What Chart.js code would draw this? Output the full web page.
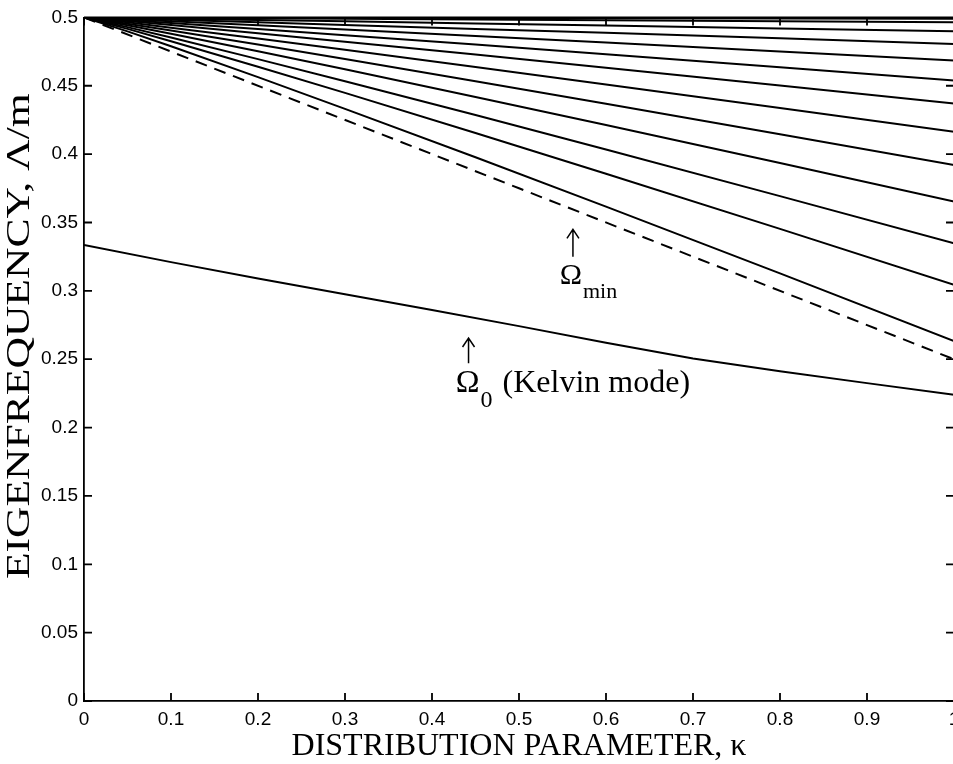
<!DOCTYPE html>
<html>
<head>
<meta charset="utf-8">
<title>Eigenfrequency vs distribution parameter</title>
<script src="https://cdn.jsdelivr.net/npm/chart.js@4/dist/chart.umd.min.js"></script>
<style>
  html, body { margin: 0; padding: 0; background: #fff; overflow: hidden; }
  #wrap { width: 968px; height: 764px; }
</style>
</head>
<body>
<div id="wrap"><canvas id="eigenChart"></canvas></div>
<script>
// kappa samples for the mode curves
const kappa = [0, 0.05, 0.1, 0.2, 0.3, 0.45, 0.6, 0.8, 1.0];

// higher modes, eigenfrequency Lambda/m (top to bottom)
const mode1  = [0.5, 0.5,    0.4999, 0.4998, 0.4997, 0.4996, 0.4994, 0.4992, 0.4990];
const mode2  = [0.5, 0.4998, 0.4997, 0.4993, 0.4990, 0.4984, 0.4979, 0.4972, 0.4964];
const mode3  = [0.5, 0.4996, 0.4991, 0.4981, 0.4971, 0.4956, 0.4940, 0.4919, 0.4898];
const mode4  = [0.5, 0.4992, 0.4983, 0.4964, 0.4945, 0.4916, 0.4887, 0.4847, 0.4806];
const mode5  = [0.5, 0.4986, 0.4972, 0.4942, 0.4911, 0.4864, 0.4816, 0.4751, 0.4685];
const mode6  = [0.5, 0.4980, 0.4959, 0.4915, 0.4870, 0.4801, 0.4730, 0.4635, 0.4539];
const mode7  = [0.5, 0.4973, 0.4944, 0.4884, 0.4822, 0.4728, 0.4632, 0.4502, 0.4370];
const mode8  = [0.5, 0.4964, 0.4925, 0.4846, 0.4764, 0.4638, 0.4510, 0.4338, 0.4163];
const mode9  = [0.5, 0.4954, 0.4904, 0.4801, 0.4695, 0.4533, 0.4369, 0.4146, 0.3921];
const mode10 = [0.5, 0.4942, 0.4880, 0.4752, 0.4620, 0.4418, 0.4213, 0.3935, 0.3654];
const mode11 = [0.5, 0.4929, 0.4853, 0.4695, 0.4533, 0.4286, 0.4034, 0.3693, 0.3348];
const mode12 = [0.5, 0.4916, 0.4826, 0.4639, 0.4448, 0.4155, 0.3857, 0.3453, 0.3045];
const mode13 = [0.5, 0.4898, 0.4789, 0.4563, 0.4331, 0.3977, 0.3616, 0.3128, 0.2633];
const modes = [mode1, mode2, mode3, mode4, mode5, mode6, mode7, mode8, mode9,
               mode10, mode11, mode12, mode13];

// lower edge of the continuum, Omega_min
const kappaMin = [0, 0.5, 1.0];
const omegaMin = [0.5, 0.375, 0.25];

// Kelvin mode, Omega_0
const kappaKelvin = [0, 0.1, 0.2, 0.3, 0.4, 0.5, 0.6, 0.7, 0.8, 0.9, 1.0];
const omegaKelvin = [0.3335, 0.3210, 0.3090, 0.2975, 0.2860, 0.2742, 0.2620, 0.2505, 0.2412, 0.2325, 0.2240];

const xTickLabels = ['0', '0.1', '0.2', '0.3', '0.4', '0.5', '0.6', '0.7', '0.8', '0.9', '1'];
const yTickLabels = ['0', '0.05', '0.1', '0.15', '0.2', '0.25', '0.3', '0.35', '0.4', '0.45', '0.5'];

const toPoints = (xs, ys) => xs.map((k, i) => ({ x: k, y: ys[i] }));

const lineStyle = {
    borderColor: '#000',
    borderWidth: 2,
    pointRadius: 0,
    fill: false,
    tension: 0,
};

const datasets = modes.map(m => ({ ...lineStyle, data: toPoints(kappa, m) }));
datasets.push({ ...lineStyle, data: toPoints(kappaMin, omegaMin), borderDash: [12, 8] });
datasets.push({ ...lineStyle, data: toPoints(kappaKelvin, omegaKelvin) });

const serif = '"Liberation Serif", "Times New Roman", serif';

// box around the plot with inward ticks, the y title and the arrow labels
const frame = {
    id: 'frame',
    afterDatasetsDraw(chart) {
        const { ctx, chartArea: a, scales: { x, y } } = chart;
        ctx.save();
        ctx.strokeStyle = '#000';
        ctx.lineWidth = 1.8;
        ctx.beginPath();
        ctx.moveTo(a.left, a.top);
        ctx.lineTo(a.right, a.top);
        ctx.lineTo(a.right, a.bottom);
        x.ticks.forEach(t => {
            const px = x.getPixelForValue(t.value);
            ctx.moveTo(px, a.bottom);
            ctx.lineTo(px, a.bottom - 8);
            ctx.moveTo(px, a.top);
            ctx.lineTo(px, a.top + 8);
        });
        y.ticks.forEach(t => {
            const py = y.getPixelForValue(t.value);
            ctx.moveTo(a.left, py);
            ctx.lineTo(a.left + 8, py);
            ctx.moveTo(a.right, py);
            ctx.lineTo(a.right - 8, py);
        });
        ctx.stroke();
        ctx.restore();
    },
    afterDraw(chart) {
        const { ctx, scales: { x, y } } = chart;
        const arrow = (px, top, bottom) => {
            ctx.beginPath();
            ctx.moveTo(px, bottom);
            ctx.lineTo(px, top);
            ctx.moveTo(px - 6, top + 9);
            ctx.lineTo(px, top);
            ctx.lineTo(px + 6, top + 9);
            ctx.stroke();
        };
        ctx.save();
        ctx.strokeStyle = '#000';
        ctx.fillStyle = '#000';
        ctx.lineWidth = 1.5;
        ctx.textBaseline = 'alphabetic';

        // y axis title, drawn tall and narrow
        ctx.save();
        ctx.translate(29, (chart.chartArea.top + chart.chartArea.bottom) / 2 - 23);
        ctx.rotate(-Math.PI / 2);
        ctx.scale(1.32, 1);
        ctx.font = '33px ' + serif;
        ctx.textAlign = 'center';
        ctx.fillText('EIGENFREQUENCY, Λ/m', 0, 0);
        ctx.restore();

        // Omega_min
        let px = x.getPixelForValue(0.562);
        arrow(px, y.getPixelForValue(0.3450), y.getPixelForValue(0.325));
        ctx.font = '30px ' + serif;
        ctx.textAlign = 'center';
        ctx.fillText('Ω', px - 2, y.getPixelForValue(0.3050));
        ctx.font = '22px ' + serif;
        ctx.textAlign = 'left';
        ctx.fillText('min', px + 10, y.getPixelForValue(0.2945));

        // Omega_0, Kelvin mode
        px = x.getPixelForValue(0.442);
        arrow(px, y.getPixelForValue(0.2655), y.getPixelForValue(0.2470));
        ctx.font = '32px ' + serif;
        ctx.textAlign = 'center';
        ctx.fillText('Ω', px - 1, y.getPixelForValue(0.2260));
        ctx.font = '24px ' + serif;
        ctx.textAlign = 'left';
        ctx.fillText('0', px + 12, y.getPixelForValue(0.2150));
        ctx.font = '32px ' + serif;
        ctx.fillText('(Kelvin mode)', px + 34, y.getPixelForValue(0.2260));
        ctx.restore();
    },
};

const tickFont = { family: '"Liberation Sans", Arial, sans-serif', size: 19 };

new Chart(document.getElementById('eigenChart'), {
    type: 'line',
    data: { datasets },
    options: {
        responsive: true,
        maintainAspectRatio: false,
        animation: false,
        layout: { padding: { top: 15, right: 14, bottom: 0, left: 0 } },
        plugins: {
            legend: { display: false },
            tooltip: { enabled: false },
        },
        scales: {
            x: {
                type: 'linear',
                min: 0,
                max: 1,
                afterFit: s => { s.height = 63; },
                ticks: {
                    stepSize: 0.1,
                    autoSkip: false,
                    maxRotation: 0,
                    padding: 7,
                    color: '#000',
                    font: tickFont,
                    callback: (v, i) => xTickLabels[i],
                },
                grid: { drawOnChartArea: false, drawTicks: false },
                border: { display: true, color: '#000', width: 1.8 },
                title: {
                    display: true,
                    text: 'DISTRIBUTION PARAMETER, κ',
                    color: '#000',
                    font: { family: serif, size: 32, lineHeight: 1.1 },
                    padding: 0,
                },
            },
            y: {
                min: 0,
                max: 0.5,
                afterFit: s => { s.width = 84; },
                ticks: {
                    stepSize: 0.05,
                    padding: 6,
                    color: '#000',
                    font: tickFont,
                    callback: (v, i) => yTickLabels[i],
                },
                grid: { drawOnChartArea: false, drawTicks: false },
                border: { display: true, color: '#000', width: 1.8 },
            },
        },
    },
    plugins: [frame],
});
</script>
</body>
</html>
